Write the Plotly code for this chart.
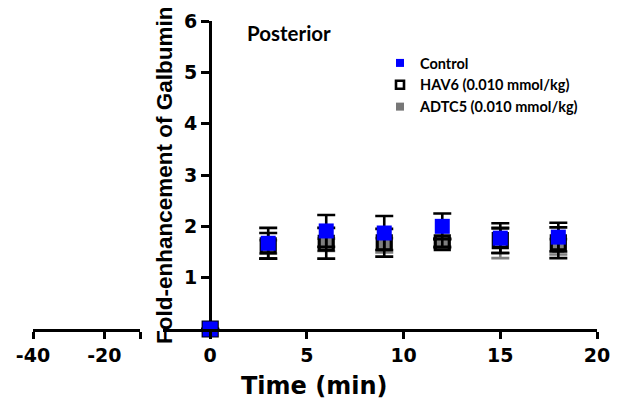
import plotly.graph_objects as go

# Sampling times (min)
time_min = [0, 3, 6, 9, 12, 15, 18]

# Fold-enhancement of Galbumin, mean and SD per group
control_mean = [0.0, 1.67, 1.91, 1.87, 2.00, 1.77, 1.79]
control_sd = [0.0, 0.30, 0.31, 0.33, 0.25, 0.29, 0.28]

hav6_mean = [0.0, 1.62, 1.67, 1.68, 1.68, 1.72, 1.68]
hav6_sd = [0.0, 0.25, 0.30, 0.27, 0.08, 0.24, 0.30]

adtc5_mean = [0.0, 1.60, 1.64, 1.63, 1.66, 1.68, 1.60]
adtc5_sd = [0.0, 0.13, 0.12, 0.14, 0.08, 0.30, 0.15]

group_names = ["Control", "HAV6 (0.010 mmol/kg)", "ADTC5 (0.010 mmol/kg)"]

# Broken time axis: pre-injection segment and post-injection segment
left_ticks = [-40, -20, -10]
left_labels = ["-40", "-20", ""]
right_ticks = [0, 5, 10, 15, 20]
y_ticks = [1, 2, 3, 4, 5, 6]

W, H = 624, 408
TICK_FONT = dict(family="DejaVu Sans, Arial", size=19, color="black", weight="bold")


def px_x(p):
    return p / W


def px_y(p):
    return (329 - p) / 308


fig = go.Figure()

# Gray ADTC5 points (bottom layer)
fig.add_trace(go.Scatter(
    x=time_min, y=adtc5_mean, mode="markers", xaxis="x2", yaxis="y",
    marker=dict(symbol="square", size=12, color="#7f7f7f", line=dict(width=0)),
    error_y=dict(type="data", array=adtc5_sd, color="#7f7f7f", thickness=2.6, width=9),
    cliponaxis=False, showlegend=False,
))
# HAV6 open squares
fig.add_trace(go.Scatter(
    x=time_min, y=hav6_mean, mode="markers", xaxis="x2", yaxis="y",
    marker=dict(symbol="square-open", size=14, color="black", line=dict(width=3.2, color="black")),
    error_y=dict(type="data", array=hav6_sd, color="black", thickness=2.6, width=9),
    cliponaxis=False, showlegend=False,
))
# Control blue squares (top layer)
fig.add_trace(go.Scatter(
    x=time_min, y=control_mean, mode="markers", xaxis="x2", yaxis="y",
    marker=dict(symbol="square", size=15, color="#0000ff", line=dict(width=0)),
    error_y=dict(type="data", array=control_sd, color="black", thickness=2.6, width=9),
    cliponaxis=False, showlegend=False,
))

# Legend entries with small symbols
legend_markers = [
    dict(symbol="square", size=8, color="#0000ff", line=dict(width=0)),
    dict(symbol="square-open", size=8, color="black", line=dict(width=2.6, color="black")),
    dict(symbol="square", size=8, color="#777777", line=dict(width=0)),
]
for name, mk in zip(group_names, legend_markers):
    fig.add_trace(go.Scatter(x=[None], y=[None], mode="markers", name=name,
                             marker=mk, xaxis="x", yaxis="y"))

# Placeholder on the break-mark axis
fig.add_trace(go.Scatter(x=[None], y=[None], mode="markers", xaxis="x3", yaxis="y",
                         showlegend=False, hoverinfo="skip"))

axis_common = dict(showline=True, linecolor="black", linewidth=3, showgrid=False,
                   zeroline=False, ticks="outside", tickcolor="black", tickwidth=3,
                   ticklen=7, tickfont=TICK_FONT, automargin=False)

fig.update_layout(
    width=W, height=H,
    margin=dict(l=0, r=0, t=21, b=79, autoexpand=False),
    paper_bgcolor="white", plot_bgcolor="white",
    xaxis=dict(domain=[px_x(33), px_x(140)], range=[-40, -10], anchor="y",
               tickmode="array", tickvals=left_ticks, ticktext=left_labels, **axis_common),
    xaxis3=dict(overlaying="x", range=[-40, -10], anchor="y", showline=False,
                showgrid=False, zeroline=False, ticks="inside", tickcolor="black",
                tickwidth=3, ticklen=6, tickmode="array", tickvals=[-10],
                showticklabels=False),
    xaxis2=dict(domain=[px_x(163), px_x(597)], range=[-2.44, 20], anchor="y",
                tickmode="array", tickvals=right_ticks, **axis_common),
    yaxis=dict(range=[0, 6], anchor="free", position=px_x(210), side="left",
               tickmode="array", tickvals=y_ticks, **{**axis_common, "ticklen": 8}),
    legend=dict(x=px_x(380), y=px_y(47), xanchor="left", yanchor="top",
                bgcolor="rgba(255,255,255,0)", borderwidth=0, itemwidth=30,
                font=dict(family="Lato, Noto Sans", size=14.5, color="black", weight="bold"),
                tracegroupgap=0),
    annotations=[
        dict(text="Posterior", xref="paper", yref="paper", x=px_x(245), y=px_y(33),
             xanchor="left", yanchor="middle", showarrow=False,
             font=dict(family="Lato, Noto Sans", size=20.5, color="black", weight="bold")),
        dict(text="Fold-enhancement of Galbumin", xref="paper", yref="paper",
             x=px_x(164), y=0.5, xanchor="center", yanchor="middle", textangle=-90,
             showarrow=False,
             font=dict(family="Liberation Sans, Arial", size=22.5, color="black", weight="bold")),
        dict(text="Time (min)", xref="paper", yref="paper",
             x=px_x(314), y=px_y(386), xanchor="center", yanchor="middle",
             showarrow=False,
             font=dict(family="DejaVu Sans, Arial", size=24, color="black", weight="bold")),
    ],
)

fig.write_html("out.html")
